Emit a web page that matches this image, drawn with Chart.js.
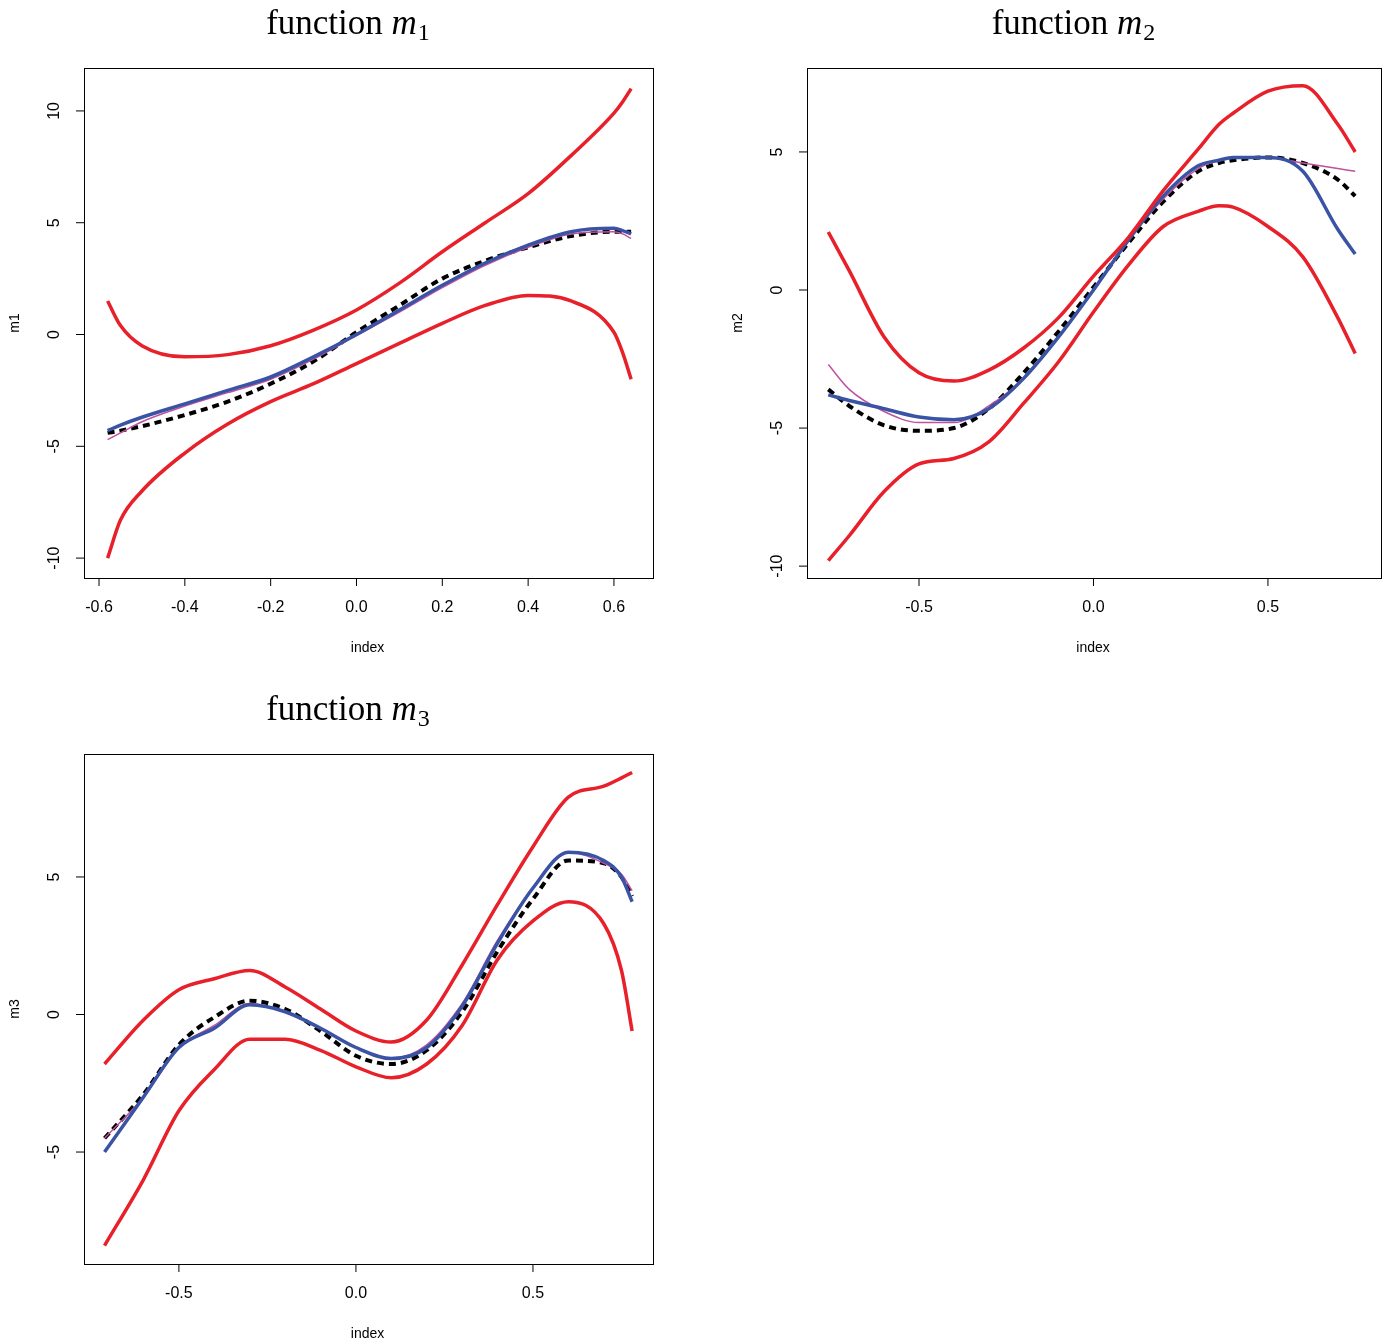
<!DOCTYPE html>
<html>
<head>
<meta charset="utf-8">
<script src="https://cdn.jsdelivr.net/npm/chart.js@4"></script>
<style>
  body { margin: 0; background: #fff; width: 1384px; height: 1342px; position: relative; }
  canvas { position: absolute; }
</style>
</head>
<body>
<canvas id="c1" style="left:0;top:0"></canvas>
<canvas id="c2" style="left:692px;top:0"></canvas>
<canvas id="c3" style="left:0;top:686px"></canvas>
<script>
// panel 1: m1
const m1X = [-0.58, -0.55, -0.5, -0.4, -0.3, -0.2, -0.1, 0, 0.1, 0.2, 0.3, 0.4, 0.5, 0.6, 0.62, 0.64];
const m1Upper = [1.5, 0.4, -0.5, -1.0, -0.9, -0.5, 0.2, 1.1, 2.3, 3.7, 5.0, 6.3, 8.0, 9.9, 10.4, 11.0];
const m1Lower = [-10, -8.3, -7.0, -5.3, -4.0, -3.0, -2.2, -1.3, -0.4, 0.5, 1.3, 1.75, 1.5, 0.1, -0.8, -2.0];
const m1Blue = [-4.3, -4.05, -3.7, -3.1, -2.5, -1.9, -1.0, 0.0, 1.1, 2.2, 3.2, 4.0, 4.6, 4.75, 4.65, 4.5];
const m1Magenta = [-4.7, -4.4, -3.9, -3.2, -2.6, -2.0, -1.1, -0.05, 1.0, 2.1, 3.1, 3.9, 4.5, 4.6, 4.5, 4.3];
const m1Black = [-4.4, -4.3, -4.1, -3.6, -3.0, -2.2, -1.2, 0.1, 1.3, 2.5, 3.3, 3.9, 4.4, 4.6, 4.6, 4.6];
const m1XTicks = [-0.6, -0.4, -0.2, 0, 0.2, 0.4, 0.6];
const m1YTicks = [-10, -5, 0, 5, 10];

// panel 2: m2
const m2X = [-0.76, -0.7, -0.6, -0.5, -0.4, -0.3, -0.2, -0.1, 0, 0.1, 0.2, 0.3, 0.36, 0.4, 0.5, 0.6, 0.7, 0.75];
const m2Upper = [2.1, 0.7, -1.7, -3.0, -3.3, -2.9, -2.1, -1.0, 0.5, 1.9, 3.6, 5.1, 6.0, 6.4, 7.2, 7.4, 6.0, 5.0];
const m2Lower = [-9.8, -8.9, -7.3, -6.3, -6.1, -5.5, -4.1, -2.6, -0.8, 0.9, 2.3, 2.85, 3.05, 3.0, 2.3, 1.2, -1.0, -2.3];
const m2Blue = [-3.8, -4.0, -4.3, -4.6, -4.7, -4.3, -3.2, -1.7, 0.0, 1.8, 3.4, 4.5, 4.7, 4.8, 4.8, 4.3, 2.2, 1.3];
const m2Magenta = [-2.7, -3.6, -4.4, -4.8, -4.8, -4.2, -3.2, -1.7, 0.0, 1.8, 3.3, 4.4, 4.7, 4.8, 4.8, 4.6, 4.4, 4.3];
const m2Black = [-3.6, -4.2, -4.9, -5.1, -5.0, -4.3, -3.0, -1.5, 0.1, 1.7, 3.2, 4.3, 4.6, 4.7, 4.8, 4.6, 4.0, 3.4];
const m2XTicks = [-0.5, 0, 0.5];
const m2YTicks = [-10, -5, 0, 5];

// panel 3: m3
const m3X = [-0.71, -0.6, -0.5, -0.4, -0.3, -0.2, -0.1, 0, 0.1, 0.2, 0.3, 0.4, 0.5, 0.6, 0.7, 0.75, 0.78];
const m3Upper = [-1.8, -0.2, 0.9, 1.3, 1.6, 1.0, 0.2, -0.6, -1.0, -0.2, 1.8, 4.0, 6.1, 7.9, 8.3, 8.6, 8.8];
const m3Lower = [-8.4, -6.0, -3.5, -2.0, -0.9, -0.9, -1.3, -1.9, -2.3, -1.8, -0.4, 2.0, 3.4, 4.1, 3.3, 1.6, -0.6];
const m3Blue = [-5.0, -3.0, -1.2, -0.5, 0.35, 0.1, -0.5, -1.2, -1.6, -1.2, 0.3, 2.6, 4.6, 5.9, 5.6, 5.0, 4.1];
const m3Magenta = [-4.5, -3.0, -1.2, -0.4, 0.4, 0.1, -0.5, -1.2, -1.6, -1.1, 0.4, 2.7, 4.6, 5.9, 5.5, 5.1, 4.5];
const m3Black = [-4.5, -2.9, -1.1, -0.1, 0.5, 0.2, -0.6, -1.5, -1.8, -1.3, 0.1, 2.3, 4.2, 5.6, 5.5, 5.0, 4.3];
const m3XTicks = [-0.5, 0, 0.5];
const m3YTicks = [-5, 0, 5];

const RED = '#e8202a', BLUE = '#3a53a4', MAGENTA = '#c050a0';

function pts(xs, ys) {
    return xs.map((x, i) => ({x: x, y: ys[i]}));
}

// draws R-style box, axes, labels and title
const rAxes = {
    id: 'rAxes',
    afterDraw(chart, args, o) {
        const ctx = chart.ctx;
        const a = chart.chartArea;
        const xs = chart.scales.x, ys = chart.scales.y;
        ctx.save();
        ctx.strokeStyle = '#000';
        ctx.lineWidth = 1;
        ctx.strokeRect(a.left + 0.5, a.top + 0.5, a.right - a.left, a.bottom - a.top);
        ctx.fillStyle = '#000';
        ctx.font = '16px "Liberation Sans", Arial, sans-serif';
        // x axis
        const xp = o.xTicks.map(v => xs.getPixelForValue(v));
        ctx.beginPath();
        ctx.moveTo(xp[0], a.bottom + 0.5);
        ctx.lineTo(xp[xp.length - 1], a.bottom + 0.5);
        xp.forEach(p => { ctx.moveTo(p, a.bottom); ctx.lineTo(p, a.bottom + 8); });
        ctx.stroke();
        ctx.textAlign = 'center';
        ctx.textBaseline = 'middle';
        o.xTicks.forEach((v, i) => ctx.fillText(v.toFixed(o.xDec), xp[i], a.bottom + 30));
        // y axis
        const yp = o.yTicks.map(v => ys.getPixelForValue(v));
        ctx.beginPath();
        ctx.moveTo(a.left + 0.5, yp[0]);
        ctx.lineTo(a.left + 0.5, yp[yp.length - 1]);
        yp.forEach(p => { ctx.moveTo(a.left, p); ctx.lineTo(a.left - 8, p); });
        ctx.stroke();
        o.yTicks.forEach((v, i) => {
            ctx.save();
            ctx.translate(a.left - 29, yp[i]);
            ctx.rotate(-Math.PI / 2);
            ctx.fillText(String(v), 0, 0);
            ctx.restore();
        });
        // axis titles
        ctx.font = '14px "Liberation Sans", Arial, sans-serif';
        ctx.fillText('index', (a.left + a.right) / 2 - 1, a.bottom + 70);
        ctx.save();
        ctx.translate(a.left - 69, (a.top + a.bottom) / 2);
        ctx.rotate(-Math.PI / 2);
        ctx.fillText(o.yTitle, 0, 0);
        ctx.restore();
        // main title
        const cx = (a.left + a.right) / 2 - 21;
        const t1 = 'function ', t2 = 'm', t3 = o.sub;
        const F = '"Liberation Serif", "DejaVu Serif", serif';
        ctx.textAlign = 'left';
        ctx.textBaseline = 'alphabetic';
        ctx.font = '35px ' + F;
        const w1 = ctx.measureText(t1).width;
        ctx.font = 'italic 35px ' + F;
        const w2 = ctx.measureText(t2).width;
        ctx.font = '24px ' + F;
        const w3 = ctx.measureText(t3).width;
        const x0 = cx - (w1 + w2 + w3) / 2;
        const base = a.top - 34;
        ctx.font = '35px ' + F;
        ctx.fillText(t1, x0, base);
        ctx.font = 'italic 35px ' + F;
        ctx.fillText(t2, x0 + w1, base);
        ctx.font = '24px ' + F;
        ctx.fillText(t3, x0 + w1 + w2 + 1, base + 6);
        ctx.restore();
    }
};

function createPanel(id, w, h, pad, xs, upper, lower, blue, magenta, black, lim, axes) {
    const canvas = document.getElementById(id);
    canvas.width = w;
    canvas.height = h;
    canvas.style.width = w + 'px';
    canvas.style.height = h + 'px';
    const line = (data, color, width, dash) => ({
        data: pts(xs, data),
        borderColor: color,
        borderWidth: width,
        borderDash: dash || [],
        pointRadius: 0,
        cubicInterpolationMode: 'monotone',
        fill: false,
    });
    return new Chart(canvas.getContext('2d'), {
        type: 'line',
        data: {
            datasets: [
                line(upper, RED, 3.5),
                line(lower, RED, 3.5),
                line(blue, BLUE, 3.5),
                line(magenta, MAGENTA, 1.5),
                line(black, '#000', 4, [7, 5]),
            ],
        },
        options: {
            responsive: false,
            animation: false,
            devicePixelRatio: 1,
            layout: { padding: pad },
            plugins: { legend: { display: false }, tooltip: { enabled: false }, rAxes: axes },
            scales: {
                x: { type: 'linear', display: false, min: lim[0], max: lim[1] },
                y: { type: 'linear', display: false, min: lim[2], max: lim[3] },
            },
        },
        plugins: [rAxes],
    });
}

createPanel('c1', 692, 680, {left: 84, top: 68, right: 39, bottom: 102},
    m1X, m1Upper, m1Lower, m1Blue, m1Magenta, m1Black,
    [-0.635, 0.691, -10.89, 11.92],
    {xTicks: m1XTicks, yTicks: m1YTicks, xDec: 1, yTitle: 'm1', sub: '1'});

createPanel('c2', 692, 680, {left: 115, top: 68, right: 3, bottom: 102},
    m2X, m2Upper, m2Lower, m2Blue, m2Magenta, m2Black,
    [-0.821, 0.824, -10.43, 8.04],
    {xTicks: m2XTicks, yTicks: m2YTicks, xDec: 1, yTitle: 'm2', sub: '2'});

createPanel('c3', 692, 656, {left: 84, top: 68, right: 39, bottom: 78},
    m3X, m3Upper, m3Lower, m3Blue, m3Magenta, m3Black,
    [-0.768, 0.839, -9.07, 9.47],
    {xTicks: m3XTicks, yTicks: m3YTicks, xDec: 1, yTitle: 'm3', sub: '3'});
</script>
</body>
</html>
